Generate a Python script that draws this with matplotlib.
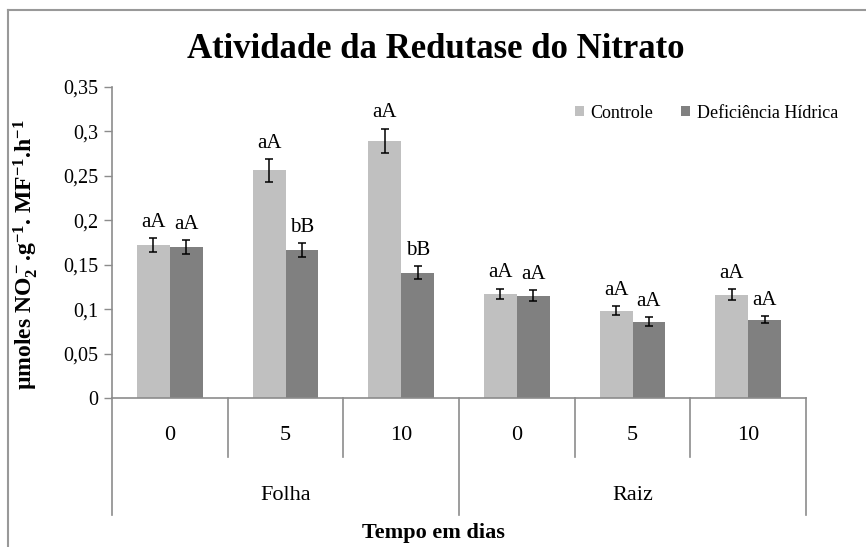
import numpy as np
import matplotlib
matplotlib.use('Agg')
import matplotlib.pyplot as plt
from matplotlib.lines import Line2D
import matplotlib.transforms as mtransforms

plt.rcParams['font.family'] = ['Liberation Serif', 'DejaVu Serif']
plt.rcParams['mathtext.fontset'] = 'custom'
plt.rcParams['mathtext.rm'] = 'Liberation Serif'
plt.rcParams['mathtext.bf'] = 'Liberation Serif:bold'
plt.rcParams['mathtext.default'] = 'bf'

# data
dias = ['0', '5', '10', '0', '5', '10']
orgaos = ['Folha', 'Raiz']
controle = [0.172, 0.256, 0.289, 0.117, 0.098, 0.116]
controle_err = [0.008, 0.013, 0.014, 0.006, 0.005, 0.006]
deficiencia = [0.170, 0.166, 0.141, 0.115, 0.086, 0.088]
deficiencia_err = [0.008, 0.008, 0.0075, 0.006, 0.005, 0.004]
letras_controle = ['aA', 'aA', 'aA', 'aA', 'aA', 'aA']
letras_deficiencia = ['aA', 'bB', 'bB', 'aA', 'aA', 'aA']
yticks = [0, 0.05, 0.1, 0.15, 0.2, 0.25, 0.3, 0.35]

W, H = 866, 547
fig = plt.figure(figsize=(W / 100, H / 100), dpi=100)
ax = fig.add_axes([112 / W, 1 - 398 / H, (806 - 112) / W, (398 - 86.7) / H])

x = np.arange(len(dias))
w = 0.285
grid_col = '#8c8c8c'

ax.bar(x - w / 2, controle, w, color='#c0c0c0', label='Controle', zorder=2)
ax.bar(x + w / 2, deficiencia, w, color='#808080', label='Deficiência Hídrica', zorder=2)
ax.errorbar(x - w / 2, controle, yerr=controle_err, fmt='none', ecolor='black',
            elinewidth=1.1, capsize=3, capthick=1.1, zorder=3)
ax.errorbar(x + w / 2, deficiencia, yerr=deficiencia_err, fmt='none', ecolor='black',
            elinewidth=1.1, capsize=3, capthick=1.1, zorder=3)

for i in range(len(dias)):
    ax.annotate(letras_controle[i], (x[i] - w / 2, controle[i] + controle_err[i]),
                xytext=(0, 8), textcoords='offset points', ha='center', va='baseline',
                fontsize=15)
    ax.annotate(letras_deficiencia[i], (x[i] + w / 2, deficiencia[i] + deficiencia_err[i]),
                xytext=(0, 8), textcoords='offset points', ha='center', va='baseline',
                fontsize=15)

ax.set_xlim(-0.5, len(dias) - 0.5)
ax.set_ylim(0, 0.35)
ax.set_yticks(yticks)
ax.set_yticklabels([('%g' % v).replace('.', ',') for v in yticks], fontsize=14.5)
ax.tick_params(axis='y', direction='out', length=6, width=1, color=grid_col, pad=4)
ax.set_xticks([])

for s in ['top', 'right']:
    ax.spines[s].set_visible(False)
ax.spines['left'].set_color(grid_col)
ax.spines['bottom'].set_color(grid_col)
ax.spines['left'].set_linewidth(1.2)
ax.spines['bottom'].set_linewidth(1.2)

# multi-level category axis
trans = mtransforms.blended_transform_factory(ax.transData, ax.transAxes)
for b in np.arange(-0.5, len(dias), 1.0):
    outer = b in (-0.5, 2.5, 5.5)
    y_end = -0.376 if outer else -0.19
    ax.add_line(Line2D([b, b], [0, y_end], transform=trans, color=grid_col,
                       lw=1.2, clip_on=False))
for i, d in enumerate(dias):
    ax.text(x[i], -0.119, d, transform=trans, ha='center', va='center', fontsize=16)
for j, o in enumerate(orgaos):
    ax.text(1 + 3 * j, -0.312, o, transform=trans, ha='center', va='center', fontsize=16)

fig.text(0.5, 1 - 533 / H, 'Tempo em dias', ha='center', va='center',
         fontsize=16, fontweight='bold')

ax.set_ylabel('µmoles NO$_2^-$.g$^{-1}$. MF$^{-1}$.h$^{-1}$', fontsize=17,
              fontweight='bold')
ax.yaxis.set_label_coords((40 - 112) / 694, 0.459)

fig.text(436 / W, 1 - 58 / H, 'Atividade da Redutase do Nitrato', ha='center',
         va='baseline', fontsize=25, fontweight='bold')

ax.legend(loc='center left', bbox_to_anchor=(575 / W, 1 - 113 / H),
          bbox_transform=fig.transFigure, ncol=2, frameon=False, fontsize=13,
          handlelength=0.5, handleheight=0.5, handletextpad=0.35,
          columnspacing=1.55, borderpad=0, borderaxespad=0)

# outer chart frame (only top and left edges visible in the crop)
fig.add_artist(Line2D([8 / W, 1], [1 - 10 / H, 1 - 10 / H], transform=fig.transFigure,
                      color='#999999', lw=1.5))
fig.add_artist(Line2D([8 / W, 8 / W], [1 - 10 / H, 0], transform=fig.transFigure,
                      color='#999999', lw=1.5))

fig.savefig('out.png', dpi=100)
